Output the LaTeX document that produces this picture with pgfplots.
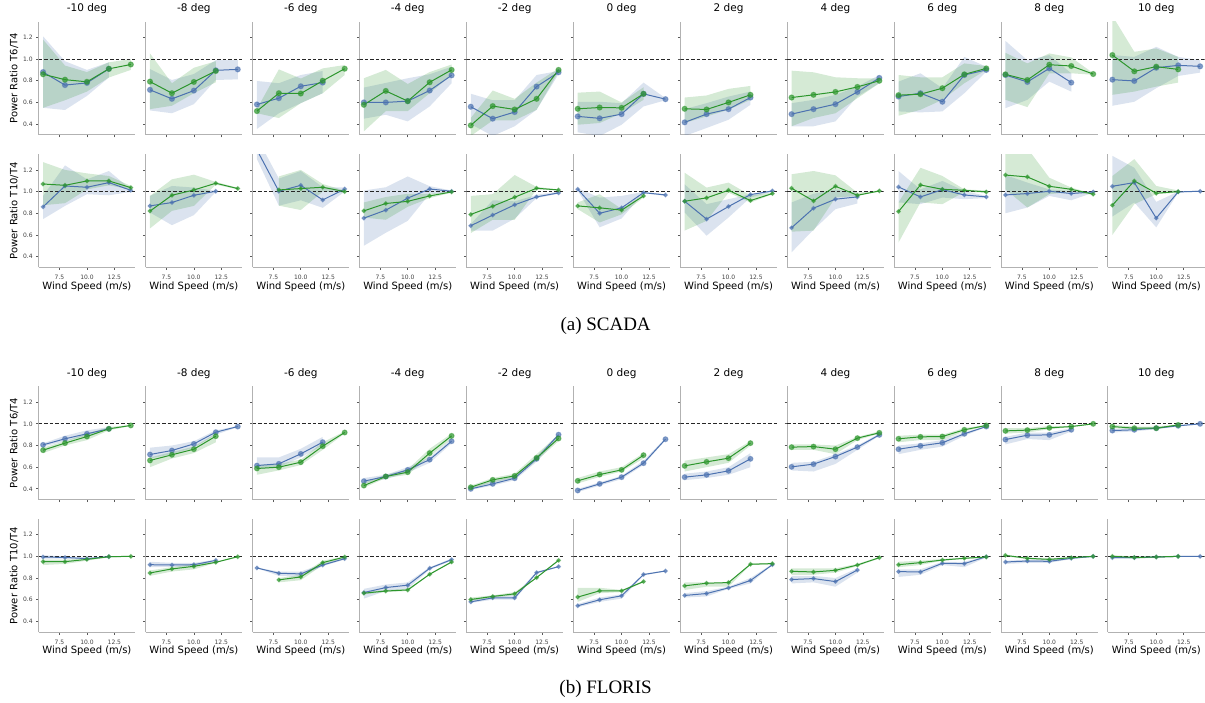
\documentclass[border=0pt]{standalone}
\usepackage{pgfplots}
\pgfplotsset{compat=1.18}
\usepackage{pgfplotstable}
\usepackage{fontspec}
\setmainfont{DejaVu Sans}
\newfontfamily\capfont{Liberation Serif}
\definecolor{cB}{RGB}{76,114,176}
\definecolor{cG}{RGB}{44,150,44}
\def\ms{2.5pt}
\pgfplotsset{
  panel/.style={scale only axis, width=96.6pt, height=113.3pt,
    anchor=south west,
    xmin=5.6, xmax=14.4, ymin=0.30, ymax=1.345,
    axis x line*=bottom, axis y line*=left,
    x axis line style={-}, y axis line style={-},
    axis line style={draw=black!30, line width=1pt},
    xtick={7.5,10,12.5}, ytick={0.4,0.6,0.8,1.0,1.2},
    xticklabels={}, yticklabels={},
    tick align=outside, major tick length=2.5pt,
    tick style={draw=black!65, line width=0.7pt},
    tick label style={font=\fontsize{6}{7}\selectfont, text=black!75},
    xticklabel style={yshift=-1.5pt},
    title style={font=\fontsize{10.5}{12}\selectfont, at={(0.5,1)}, anchor=center, yshift=7.3pt},
    label style={font=\fontsize{10}{12}\selectfont},
    ylabel style={at={(-0.255,0.5)}, anchor=center},
    xlabel style={at={(0.5,0)}, anchor=center, yshift=-19pt},
    clip=true},
  firstcol/.style={yticklabels={0.4,0.6,0.8,1.0,1.2}, ylabel={#1}},
  bottomrow/.style={xticklabels={7.5,10.0,12.5}, xlabel={Wind Speed (m/s)}},
  bandB/.style={fill=cB, fill opacity=0.2, draw=none},
  bandG/.style={fill=cG, fill opacity=0.2, draw=none},
  lineB/.style={color=cB, line width=1pt, mark=*, mark size=\ms, mark options={solid, fill=cB, fill opacity=0.7, draw opacity=0.5}},
  lineG/.style={color=cG, line width=1pt, mark=*, mark size=\ms, mark options={solid, fill=cG, fill opacity=0.7, draw opacity=0.5}},
}
\newcommand\panel[5]{%
  \pgfplotstableread[row sep=\\]{x y lo hi\\#4}\tabB
  \pgfplotstableread[row sep=\\]{x y lo hi\\#4}\polyB
  \pgfplotstablesort[sort key={x}, sort cmp={float >}]\tabBr{\tabB}
  \pgfplotstablevertcat{\polyB}{\tabBr}
  \pgfplotstablegetrowsof{\tabB}\edef\nB{\pgfplotsretval}
  \pgfplotstableread[row sep=\\]{x y lo hi\\#5}\tabG
  \pgfplotstableread[row sep=\\]{x y lo hi\\#5}\polyG
  \pgfplotstablesort[sort key={x}, sort cmp={float >}]\tabGr{\tabG}
  \pgfplotstablevertcat{\polyG}{\tabGr}
  \pgfplotstablegetrowsof{\tabG}\edef\nG{\pgfplotsretval}
  \begin{axis}[panel, at={({38.7pt+107pt*#1},{-#2pt})}, #3]
    \addplot[bandB] table[x=x, y expr={\coordindex<\nB ? \thisrow{hi} : \thisrow{lo}}]{\polyB} -- cycle;
    \addplot[bandG] table[x=x, y expr={\coordindex<\nG ? \thisrow{hi} : \thisrow{lo}}]{\polyG} -- cycle;
    \addplot[black!85, line width=0.9pt, dash pattern=on 3.5pt off 2pt] coordinates {(5.6,1) (14.4,1)};
    \addplot[lineB] table[x=x, y=y]{\tabB};
    \addplot[lineG] table[x=x, y=y]{\tabG};
  \end{axis}}
\begin{document}
\begin{tikzpicture}
\path (0,0) rectangle (1205pt,-700pt);
% ---------------- Row 1: SCADA T6/T4 ----------------
\def\ms{2.6pt}
\panel{0}{131.7}{title={-10 deg}, firstcol={Power Ratio T6/T4}}
{6 0.88 0.55 1.21\\8 0.76 0.53 0.98\\10 0.78 0.66 0.90\\12 0.91 0.83 0.97\\}
{6 0.86 0.55 1.18\\8 0.81 0.62 0.94\\10 0.79 0.70 0.88\\12 0.91 0.83 0.97\\14 0.95 0.90 1.00\\}
\panel{1}{131.7}{title={-8 deg}}
{6 0.716 0.526 0.908\\8 0.633 0.50 0.807\\10 0.709 0.584 0.862\\12 0.896 0.807 0.99\\14 0.905 0.813 0.99\\}
{6 0.792 0.538 1.052\\8 0.685 0.569 0.777\\10 0.789 0.685 0.92\\12 0.89 0.786 0.98\\}
\panel{2}{131.7}{title={-6 deg}}
{6 0.581 0.355 0.798\\8 0.639 0.50 0.777\\10 0.749 0.593 0.853\\12 0.783 0.685 0.89\\}
{6 0.52 0.50 0.54\\8 0.685 0.456 0.905\\10 0.682 0.593 0.82\\12 0.80 0.685 0.914\\14 0.911 0.853 0.945\\}
\panel{3}{131.7}{title={-4 deg}}
{6 0.60 0.45 0.737\\8 0.60 0.486 0.78\\10 0.612 0.425 0.823\\12 0.71 0.563 0.86\\14 0.85 0.777 0.93\\}
{6 0.578 0.333 0.823\\8 0.706 0.52 0.90\\10 0.612 0.52 0.77\\12 0.786 0.685 0.88\\14 0.90 0.853 0.95\\}
\panel{4}{131.7}{title={-2 deg}}
{6 0.56 0.40 0.68\\8 0.45 0.29 0.62\\10 0.511 0.38 0.62\\12 0.746 0.532 0.853\\14 0.878 0.86 0.89\\}
{6 0.388 0.29 0.456\\8 0.566 0.434 0.71\\10 0.535 0.434 0.633\\12 0.633 0.532 0.783\\14 0.90 0.884 0.914\\}
\panel{5}{131.7}{title={0 deg}}
{6 0.471 0.324 0.606\\8 0.453 0.29 0.606\\10 0.492 0.394 0.593\\12 0.679 0.563 0.783\\14 0.63 0.62 0.64\\}
{6 0.541 0.394 0.69\\8 0.553 0.41 0.70\\10 0.55 0.50 0.60\\12 0.679 0.624 0.74\\}
\panel{6}{131.7}{title={2 deg}}
{6 0.416 0.29 0.538\\8 0.492 0.364 0.593\\10 0.538 0.44 0.654\\12 0.645 0.578 0.70\\}
{6 0.541 0.41 0.645\\8 0.535 0.471 0.664\\10 0.60 0.532 0.725\\12 0.67 0.624 0.752\\}
\panel{7}{131.7}{title={4 deg}}
{6 0.492 0.38 0.593\\8 0.538 0.38 0.624\\10 0.584 0.425 0.67\\12 0.697 0.654 0.746\\14 0.826 0.777 0.853\\}
{6 0.645 0.38 0.893\\8 0.67 0.456 0.878\\10 0.697 0.50 0.832\\12 0.743 0.639 0.823\\14 0.80 0.777 0.823\\}
\panel{8}{131.7}{title={6 deg}}
{6 0.654 0.517 0.792\\8 0.685 0.508 0.869\\10 0.606 0.517 0.731\\12 0.853 0.685 1.02\\14 0.90 0.884 0.93\\}
{6 0.667 0.477 0.853\\8 0.676 0.532 0.832\\10 0.731 0.624 0.832\\12 0.859 0.777 0.96\\14 0.914 0.90 0.936\\}
\panel{9}{131.7}{title={8 deg}}
{6 0.853 0.547 1.168\\8 0.789 0.624 0.99\\10 0.914 0.792 1.037\\12 0.783 0.70 0.869\\}
{6 0.859 0.624 1.058\\8 0.807 0.557 0.96\\10 0.948 0.869 1.052\\12 0.936 0.869 1.015\\14 0.862 0.855 0.87\\}
\panel{10}{131.7}{title={10 deg}}
{6 0.81 0.569 1.037\\8 0.798 0.606 1.02\\10 0.92 0.731 1.113\\12 0.942 0.844 1.02\\14 0.933 0.875 0.99\\}
{6 1.037 0.67 1.40\\8 0.887 0.70 1.067\\10 0.93 0.746 1.098\\12 0.905 0.783 1.02\\}
% ---------------- Row 2: SCADA T10/T4 ----------------
\def\ms{1.9pt}
\panel{0}{264.3}{bottomrow, firstcol={Power Ratio T10/T4}}
{6 0.859 0.746 0.96\\8 1.052 0.868 1.242\\10 1.04 0.976 1.113\\12 1.083 0.966 1.19\\14 1.012 0.997 1.02\\}
{6 1.07 0.874 1.272\\8 1.058 0.893 1.20\\10 1.098 1.02 1.168\\12 1.098 1.058 1.144\\14 1.037 1.02 1.052\\}
\panel{1}{264.3}{bottomrow}
{6 0.868 0.807 0.96\\8 0.899 0.69 1.052\\10 0.966 0.783 1.037\\12 1.003 0.997 1.006\\}
{6 0.82 0.66 0.96\\8 0.966 0.822 1.113\\10 1.015 0.868 1.156\\12 1.077 1.064 1.089\\14 1.028 1.02 1.035\\}
\panel{2}{264.3}{bottomrow}
{6 1.385 1.30 1.50\\8 1.003 0.87 1.12\\10 1.058 0.92 1.19\\12 0.923 0.85 1.04\\14 1.024 1.0 1.04\\}
{8 1.015 0.87 1.14\\10 1.028 0.83 1.20\\12 1.04 1.0 1.07\\14 1.0 0.99 1.01\\}
\panel{3}{264.3}{bottomrow}
{6 0.755 0.50 1.01\\8 0.829 0.62 1.04\\10 0.94 0.73 1.14\\12 1.024 0.98 1.05\\14 1.003 0.99 1.01\\}
{6 0.822 0.76 0.90\\8 0.89 0.74 0.95\\10 0.91 0.86 0.98\\12 0.96 0.94 0.98\\14 0.997 0.99 1.005\\}
\panel{4}{264.3}{bottomrow}
{6 0.685 0.64 0.70\\8 0.783 0.64 0.92\\10 0.878 0.75 0.91\\12 0.951 0.94 0.97\\14 0.988 0.98 1.0\\}
{6 0.789 0.617 0.96\\8 0.865 0.74 0.976\\10 0.948 0.74 1.153\\12 1.031 1.02 1.043\\14 1.015 1.01 1.02\\}
\panel{5}{264.3}{bottomrow}
{6 1.021 1.01 1.03\\8 0.80 0.67 0.945\\10 0.85 0.752 0.96\\12 0.99 0.985 0.997\\14 0.969 0.96 0.975\\}
{6 0.868 0.838 0.90\\8 0.85 0.715 0.976\\10 0.829 0.79 0.84\\12 0.96 0.945 0.976\\}
\panel{6}{264.3}{bottomrow}
{6 0.911 0.807 1.067\\8 0.746 0.593 0.884\\10 0.862 0.761 0.93\\12 0.972 0.945 0.976\\14 1.006 1.0 1.01\\}
{6 0.911 0.64 1.174\\8 0.942 0.73 1.037\\10 1.012 0.99 1.083\\12 0.917 0.899 0.966\\14 0.982 0.975 0.99\\}
\panel{7}{264.3}{bottomrow}
{6 0.666 0.44 0.90\\8 0.847 0.648 0.98\\10 0.93 0.838 1.02\\12 0.951 0.89 0.99\\}
{6 1.031 0.63 1.16\\8 0.914 0.64 1.19\\10 1.049 0.945 1.15\\12 0.966 0.96 0.99\\14 1.006 1.0 1.01\\}
\panel{8}{264.3}{bottomrow}
{6 1.043 0.90 1.19\\8 0.951 0.884 1.02\\10 1.018 0.945 1.098\\12 0.969 0.93 1.006\\14 0.951 0.94 0.96\\}
{6 0.816 0.53 0.90\\8 1.061 0.90 1.22\\10 1.021 0.884 1.144\\12 1.012 0.997 1.02\\14 0.997 0.99 1.01\\}
\panel{9}{264.3}{bottomrow}
{6 0.969 0.80 1.153\\8 0.982 0.853 1.083\\10 1.003 0.96 1.02\\12 0.982 0.92 1.006\\14 0.997 0.99 1.0\\}
{6 1.153 1.02 1.40\\8 1.135 0.853 1.40\\10 1.049 0.976 1.128\\12 1.021 0.997 1.037\\14 0.976 0.97 0.98\\}
\panel{10}{264.3}{bottomrow}
{6 1.049 0.77 1.33\\8 1.083 0.90 1.22\\10 0.755 0.67 0.905\\12 0.997 0.99 1.0\\14 1.003 1.0 1.01\\}
{6 0.874 0.60 1.144\\8 1.098 0.884 1.30\\10 0.985 0.976 1.052\\12 1.0 0.99 1.01\\}
% ---------------- Row 3: FLORIS T6/T4 ----------------
\def\ms{2.5pt}
\panel{0}{496.7}{title={-10 deg}, firstcol={Power Ratio T6/T4}}
{6 0.806 0.79 0.82\\8 0.862 0.84 0.89\\10 0.908 0.89 0.94\\12 0.954 0.95 0.97\\}
{6 0.757 0.73 0.78\\8 0.822 0.80 0.84\\10 0.883 0.85 0.91\\12 0.954 0.94 0.97\\14 0.985 0.98 0.99\\}
\panel{1}{496.7}{title={-8 deg}}
{6 0.717 0.68 0.78\\8 0.754 0.72 0.80\\10 0.815 0.78 0.84\\12 0.923 0.90 0.94\\14 0.975 0.97 0.98\\}
{6 0.662 0.60 0.69\\8 0.714 0.68 0.74\\10 0.766 0.73 0.79\\12 0.886 0.83 0.91\\}
\panel{2}{496.7}{title={-6 deg}}
{6 0.615 0.58 0.69\\8 0.631 0.60 0.69\\10 0.723 0.69 0.77\\12 0.831 0.80 0.88\\}
{6 0.588 0.53 0.62\\8 0.60 0.57 0.63\\10 0.646 0.62 0.67\\12 0.794 0.76 0.83\\14 0.92 0.91 0.93\\}
\panel{3}{496.7}{title={-4 deg}}
{6 0.471 0.45 0.50\\8 0.514 0.49 0.53\\10 0.575 0.55 0.60\\12 0.67 0.64 0.69\\14 0.84 0.82 0.86\\}
{6 0.43 0.41 0.46\\8 0.514 0.50 0.53\\10 0.554 0.53 0.58\\12 0.73 0.70 0.77\\14 0.889 0.86 0.91\\}
\panel{4}{496.7}{title={-2 deg}}
{6 0.40 0.39 0.42\\8 0.446 0.43 0.47\\10 0.498 0.48 0.52\\12 0.677 0.65 0.70\\14 0.90 0.87 0.91\\}
{6 0.415 0.40 0.43\\8 0.483 0.46 0.50\\10 0.52 0.50 0.54\\12 0.686 0.66 0.72\\14 0.865 0.84 0.90\\}
\panel{5}{496.7}{title={0 deg}}
{6 0.385 0.37 0.40\\8 0.446 0.43 0.46\\10 0.508 0.49 0.52\\12 0.637 0.62 0.66\\14 0.858 0.85 0.87\\}
{6 0.474 0.45 0.50\\8 0.532 0.51 0.56\\10 0.575 0.56 0.60\\12 0.711 0.68 0.73\\}
\panel{6}{496.7}{title={2 deg}}
{6 0.508 0.48 0.54\\8 0.529 0.50 0.56\\10 0.566 0.53 0.60\\12 0.677 0.60 0.73\\}
{6 0.612 0.56 0.66\\8 0.649 0.60 0.69\\10 0.683 0.64 0.72\\12 0.822 0.80 0.84\\}
\panel{7}{496.7}{title={4 deg}}
{6 0.603 0.57 0.64\\8 0.628 0.56 0.65\\10 0.698 0.63 0.72\\12 0.785 0.76 0.80\\14 0.898 0.89 0.91\\}
{6 0.785 0.76 0.81\\8 0.79 0.76 0.81\\10 0.766 0.72 0.80\\12 0.868 0.85 0.88\\14 0.917 0.91 0.93\\}
\panel{8}{496.7}{title={6 deg}}
{6 0.766 0.72 0.80\\8 0.797 0.76 0.82\\10 0.825 0.79 0.85\\12 0.908 0.89 0.92\\14 0.975 0.97 0.98\\}
{6 0.862 0.83 0.89\\8 0.88 0.85 0.90\\10 0.883 0.85 0.90\\12 0.945 0.93 0.96\\14 0.985 0.98 0.99\\}
\panel{9}{496.7}{title={8 deg}}
{6 0.855 0.81 0.88\\8 0.895 0.86 0.92\\10 0.898 0.85 0.92\\12 0.945 0.93 0.96\\}
{6 0.935 0.91 0.96\\8 0.942 0.92 0.96\\10 0.963 0.95 0.98\\12 0.975 0.97 0.98\\14 1.0 0.995 1.005\\}
\panel{10}{496.7}{title={10 deg}}
{6 0.938 0.92 0.95\\8 0.945 0.93 0.96\\10 0.96 0.95 0.97\\12 0.982 0.975 0.99\\14 1.0 0.995 1.005\\}
{6 0.975 0.96 0.99\\8 0.96 0.95 0.975\\10 0.96 0.95 0.975\\12 0.99 0.985 0.995\\}
% ---------------- Row 4: FLORIS T10/T4 ----------------
\def\ms{1.9pt}
\panel{0}{629.3}{bottomrow, firstcol={Power Ratio T10/T4}}
{6 0.994 0.98 1.01\\8 0.99 0.98 1.0\\10 0.979 0.97 0.99\\12 0.997 0.99 1.0\\}
{6 0.951 0.92 0.97\\8 0.951 0.93 0.97\\10 0.972 0.96 0.98\\12 0.997 0.99 1.0\\14 1.0 0.995 1.005\\}
\panel{1}{629.3}{bottomrow}
{6 0.923 0.90 0.95\\8 0.92 0.90 0.94\\10 0.923 0.91 0.94\\12 0.963 0.95 0.97\\}
{6 0.847 0.82 0.87\\8 0.884 0.86 0.90\\10 0.908 0.88 0.93\\12 0.945 0.94 0.95\\14 0.997 0.99 1.0\\}
\panel{2}{629.3}{bottomrow}
{6 0.893 0.89 0.895\\8 0.844 0.82 0.86\\10 0.838 0.81 0.86\\12 0.92 0.91 0.93\\14 0.979 0.97 0.99\\}
{8 0.783 0.76 0.80\\10 0.81 0.78 0.83\\12 0.942 0.92 0.96\\14 0.994 0.99 1.0\\}
\panel{3}{629.3}{bottomrow}
{6 0.666 0.61 0.70\\8 0.712 0.68 0.74\\10 0.734 0.70 0.76\\12 0.89 0.88 0.90\\14 0.97 0.96 0.98\\}
{6 0.66 0.65 0.67\\8 0.68 0.67 0.69\\10 0.69 0.68 0.70\\12 0.835 0.83 0.84\\14 0.948 0.94 0.955\\}
\panel{4}{629.3}{bottomrow}
{6 0.58 0.57 0.60\\8 0.617 0.60 0.64\\10 0.617 0.60 0.64\\12 0.85 0.84 0.86\\14 0.905 0.90 0.91\\}
{6 0.602 0.59 0.62\\8 0.63 0.62 0.64\\10 0.654 0.64 0.67\\12 0.804 0.80 0.81\\14 0.963 0.955 0.97\\}
\panel{5}{629.3}{bottomrow}
{6 0.544 0.53 0.56\\8 0.599 0.58 0.62\\10 0.636 0.61 0.65\\12 0.832 0.825 0.84\\14 0.865 0.86 0.87\\}
{6 0.624 0.58 0.71\\8 0.682 0.66 0.71\\10 0.682 0.67 0.69\\12 0.767 0.76 0.775\\}
\panel{6}{629.3}{bottomrow}
{6 0.639 0.62 0.66\\8 0.657 0.63 0.68\\10 0.709 0.70 0.72\\12 0.777 0.75 0.80\\14 0.923 0.92 0.93\\}
{6 0.728 0.69 0.76\\8 0.752 0.72 0.76\\10 0.758 0.72 0.76\\12 0.927 0.92 0.935\\14 0.933 0.925 0.94\\}
\panel{7}{629.3}{bottomrow}
{6 0.786 0.75 0.82\\8 0.795 0.76 0.82\\10 0.767 0.72 0.80\\12 0.874 0.85 0.89\\}
{6 0.862 0.83 0.89\\8 0.856 0.83 0.89\\10 0.871 0.85 0.89\\12 0.92 0.91 0.93\\14 0.988 0.98 0.995\\}
\panel{8}{629.3}{bottomrow}
{6 0.859 0.81 0.88\\8 0.856 0.83 0.88\\10 0.936 0.92 0.95\\12 0.933 0.90 0.95\\14 0.997 0.99 1.0\\}
{6 0.923 0.90 0.95\\8 0.942 0.92 0.96\\10 0.966 0.96 0.975\\12 0.982 0.975 0.99\\14 0.994 0.99 1.0\\}
\panel{9}{629.3}{bottomrow}
{6 0.948 0.93 0.96\\8 0.957 0.94 0.97\\10 0.954 0.94 0.97\\12 0.982 0.975 0.99\\14 1.0 0.995 1.005\\}
{6 1.009 1.0 1.015\\8 0.982 0.975 0.99\\10 0.972 0.96 0.98\\12 0.988 0.98 0.995\\14 1.0 0.995 1.005\\}
\panel{10}{629.3}{bottomrow}
{6 0.988 0.98 0.995\\8 0.988 0.98 0.995\\10 0.994 0.99 1.0\\12 1.0 0.995 1.005\\14 1.0 0.995 1.005\\}
{6 1.0 0.99 1.01\\8 0.99 0.98 1.0\\10 0.994 0.985 1.0\\12 1.0 0.995 1.005\\}
% captions
\node[font=\capfont\fontsize{19}{22}\selectfont] at (606pt,-323pt) {(a) SCADA};
\node[font=\capfont\fontsize{19}{22}\selectfont] at (606pt,-686pt) {(b) FLORIS};
\end{tikzpicture}
\end{document}
